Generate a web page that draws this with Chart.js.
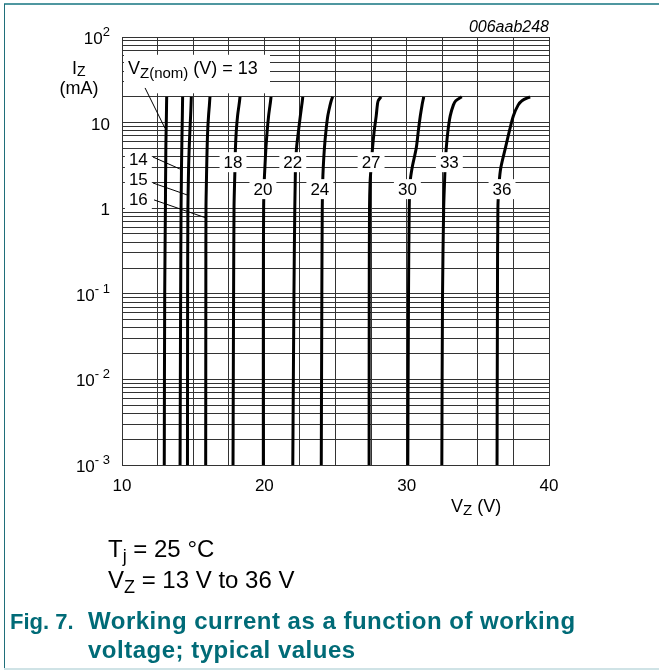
<!DOCTYPE html>
<html lang="en">
<head>
<meta charset="UTF-8">
<title>Working current as a function of working voltage</title>
<script src="https://cdn.jsdelivr.net/npm/chart.js"></script>
<style>
  body { margin: 0; background: #fff; font-family: 'Liberation Sans', Arial, sans-serif; }
  .fig { position: relative; width: 659px; height: 671px; overflow: hidden; }
  canvas { position: absolute; left: 0; top: 0; }
  .bt { position: absolute; left: 4px; top: 3px; width: 655px; height: 2px; background: #4f97a0; }
  .bl { position: absolute; left: 4px; top: 4px; width: 1px; height: 665px; background: #1f6f7a; }
  .bb { position: absolute; left: 4px; top: 668px; width: 655px; height: 2px; background: #cfe3e6; }
  .cond { position: absolute; left: 108px; top: 533px; font-size: 24px; line-height: 31px; color: #000; }
  .cond sub { font-size: 18px; vertical-align: -5px; line-height: 0; }
  .caption { position: absolute; left: 10px; top: 607px; font-size: 24px; line-height: 28px; font-weight: bold; color: #006b77; white-space: nowrap; }
  .caption .num { display: inline-block; width: 78px; font-size: 22px; }
  .caption .txt { letter-spacing: 0.5px; }
  .caption .l2 { padding-left: 78px; letter-spacing: 0.5px; }
</style>
</head>
<body>
<div class="fig">
  <canvas id="chart" width="659" height="671"></canvas>
  <div class="bt"></div><div class="bl"></div><div class="bb"></div>
  <div class="cond">T<sub>j</sub> = 25 °C<br>V<sub>Z</sub> = 13 V to 36 V</div>
  <div class="caption"><span class="num">Fig. 7.</span><span class="txt">Working current as a function of working</span><div class="l2">voltage; typical values</div></div>
</div>
<script>
// current levels (mA) at which each curve's voltage is read
const iz = [0.001, 0.1, 1, 2, 3, 5, 8, 12, 16, 18, 20];

// working voltage (V) of each type at those currents
const vz13 = [12.97, 13.0, 13.05, 13.06, 13.07, 13.08, 13.1, 13.12, 13.13, 13.135, 13.14];
const vz14 = [14.08, 14.12, 14.15, 14.17, 14.18, 14.2, 14.22, 14.24, 14.25, 14.255, 14.26];
const vz15 = [14.6, 14.61, 14.63, 14.66, 14.68, 14.72, 14.77, 14.82, 14.85, 14.86, 14.87];
const vz16 = [15.88, 15.89, 15.9, 15.93, 15.95, 15.98, 16.02, 16.08, 16.14, 16.16, 16.18];
const vz18 = [17.8, 17.84, 17.87, 17.91, 17.94, 17.97, 18.03, 18.12, 18.22, 18.26, 18.29];
const vz20 = [19.93, 19.93, 19.95, 19.99, 20.04, 20.11, 20.2, 20.3, 20.4, 20.44, 20.47];
const vz22 = [22.0, 22.08, 22.14, 22.17, 22.19, 22.26, 22.4, 22.53, 22.63, 22.67, 22.7];
const vz24 = [24.0, 24.04, 24.07, 24.1, 24.14, 24.22, 24.33, 24.46, 24.62, 24.7, 24.8];
const vz27 = [27.36, 27.37, 27.39, 27.43, 27.5, 27.6, 27.72, 27.86, 27.94, 28.0, 28.2];
const vz30 = [30.08, 30.13, 30.18, 30.24, 30.39, 30.67, 30.82, 30.96, 31.08, 31.14, 31.2];
const vz33 = [32.47, 32.52, 32.6, 32.66, 32.7, 32.78, 32.9, 33.06, 33.28, 33.45, 33.87];
const vz36 = [36.35, 36.38, 36.41, 36.5, 36.62, 36.93, 37.22, 37.5, 37.83, 38.1, 38.67];

const nominal = [13, 14, 15, 16, 18, 20, 22, 24, 27, 30, 33, 36];
const curves = [vz13, vz14, vz15, vz16, vz18, vz20, vz22, vz24, vz27, vz30, vz33, vz36];

// curve labels (text, voltage, current)
const labelText = ['14', '15', '16', '18', '20', '22', '24', '27', '30', '33', '36'];
const labelV = [11.15, 11.15, 11.15, 17.8, 19.9, 22.0, 23.9, 27.5, 30.05, 33.0, 36.7];
const labelI = [3.76, 2.19, 1.28, 3.45, 1.67, 3.45, 1.67, 3.45, 1.67, 3.45, 1.67];

// leader lines from label to curve
const leadFromV = [11.62, 12.18, 12.18, 12.25];
const leadFromI = [25.4, 3.96, 1.97, 1.25];
const leadToV = [13.02, 14.07, 14.57, 15.9];
const leadToI = [8.6, 2.87, 1.43, 0.77];

const xTicks = [10, 20, 30, 40];
const yDecades = [0.001, 0.01, 0.1, 1, 10, 100];
const yTickText = [['10', '- 3'], ['10', '- 2'], ['10', '- 1'], ['1', ''], ['10', ''], ['10', '2']];

const FONT = '"Liberation Sans", Arial, sans-serif';

function drawSub(ctx, x, y, main, sub, size, subSize, drop) {
  ctx.font = size + 'px ' + FONT;
  ctx.fillText(main, x, y);
  let w = ctx.measureText(main).width;
  ctx.font = subSize + 'px ' + FONT;
  ctx.fillText(sub, x + w, y + drop);
  return x + w + ctx.measureText(sub).width;
}

const figText = {
  id: 'figText',
  afterDatasetsDraw(chart) {
    const { ctx, scales: { x, y }, chartArea } = chart;
    ctx.save();
    ctx.fillStyle = '#000';
    ctx.strokeStyle = '#000';
    ctx.textBaseline = 'alphabetic';

    // y tick labels
    yDecades.forEach((v, k) => {
      const py = y.getPixelForValue(v);
      const [base, sup] = yTickText[k];
      ctx.font = '13px ' + FONT;
      const ws = sup ? ctx.measureText(sup).width : 0;
      ctx.font = '17px ' + FONT;
      const wb = ctx.measureText(base).width;
      const right = chartArea.left - 12;
      ctx.textAlign = 'left';
      ctx.fillText(base, right - ws - wb, py + 7);
      if (sup) {
        ctx.font = '13px ' + FONT;
        ctx.fillText(sup, right - ws, py - 1);
      }
    });

    // x tick labels
    ctx.textAlign = 'center';
    ctx.font = '17px ' + FONT;
    xTicks.forEach(v => {
      ctx.fillText(String(v), x.getPixelForValue(v), chartArea.bottom + 26);
    });

    // axis titles
    ctx.textAlign = 'left';
    drawSub(ctx, 72, 74, 'I', 'Z', 18, 14, 2);
    ctx.font = '18px ' + FONT;
    ctx.textAlign = 'center';
    ctx.fillText('(mA)', 79, 94);
    ctx.textAlign = 'left';
    let ex = drawSub(ctx, 451, 512, 'V', 'Z', 18, 15, 3);
    ctx.font = '18px ' + FONT;
    ctx.fillText(' (V)', ex, 512);

    // drawing number
    ctx.textAlign = 'right';
    ctx.font = 'italic 16px ' + FONT;
    ctx.fillText('006aab248', chartArea.right, 32);

    // nominal voltage label box
    ctx.textAlign = 'left';
    ctx.fillStyle = '#fff';
    ctx.fillRect(chartArea.left + 2, y.getPixelForValue(62), 146, y.getPixelForValue(22) - y.getPixelForValue(62));
    ctx.fillStyle = '#000';
    ex = drawSub(ctx, chartArea.left + 6, 74, 'V', 'Z(nom)', 18, 15, 4);
    ctx.font = '18px ' + FONT;
    ctx.fillText(' (V) = 13', ex, 74);

    // leader lines
    ctx.lineWidth = 1;
    leadFromV.forEach((v, k) => {
      ctx.beginPath();
      ctx.moveTo(x.getPixelForValue(v), y.getPixelForValue(leadFromI[k]));
      ctx.lineTo(x.getPixelForValue(leadToV[k]), y.getPixelForValue(leadToI[k]));
      ctx.stroke();
    });

    // curve labels with white backing
    ctx.font = '17px ' + FONT;
    ctx.textAlign = 'center';
    labelText.forEach((t, k) => {
      const px = x.getPixelForValue(labelV[k]);
      const py = y.getPixelForValue(labelI[k]);
      const w = ctx.measureText(t).width + 8;
      ctx.fillStyle = '#fff';
      ctx.fillRect(px - w / 2, py - 10, w, 20);
      ctx.fillStyle = '#000';
      ctx.fillText(t, px, py + 6);
    });
    ctx.restore();
  }
};

const whiteBg = {
  id: 'whiteBg',
  beforeDraw(chart) {
    const ctx = chart.ctx;
    ctx.save();
    ctx.fillStyle = '#fff';
    ctx.fillRect(0, 0, chart.width, chart.height);
    ctx.restore();
  }
};

const datasets = curves.map((vz, k) => ({
  label: String(nominal[k]),
  data: vz.map((v, j) => ({ x: v, y: iz[j] })),
  showLine: true,
  borderColor: '#000',
  borderWidth: 3,
  pointRadius: 0,
  tension: 0.3,
  fill: false
}));

new Chart(document.getElementById('chart').getContext('2d'), {
  type: 'scatter',
  data: { datasets: datasets },
  options: {
    responsive: false,
    animation: false,
    devicePixelRatio: 1,
    layout: { padding: { left: 122, top: 37, right: 110, bottom: 206 } },
    plugins: { legend: { display: false }, tooltip: { enabled: false } },
    scales: {
      x: {
        type: 'linear',
        min: 10,
        max: 40,
        afterBuildTicks: s => {
          const t = [];
          for (let v = 10; v <= 40; v += 2.5) t.push({ value: v });
          s.ticks = t;
        },
        ticks: { display: false },
        grid: { color: '#333', lineWidth: 1, drawTicks: false },
        border: { color: '#333' }
      },
      y: {
        type: 'logarithmic',
        min: 0.001,
        max: 100,
        afterBuildTicks: s => {
          const t = [];
          for (let e = -3; e <= 1; e++) {
            for (let m = 1; m <= 9; m++) t.push({ value: m * Math.pow(10, e) });
          }
          t.push({ value: 100 });
          s.ticks = t;
        },
        ticks: { display: false },
        grid: { color: '#333', lineWidth: 1, drawTicks: false },
        border: { color: '#333' }
      }
    }
  },
  plugins: [whiteBg, figText]
});
</script>
</body>
</html>
